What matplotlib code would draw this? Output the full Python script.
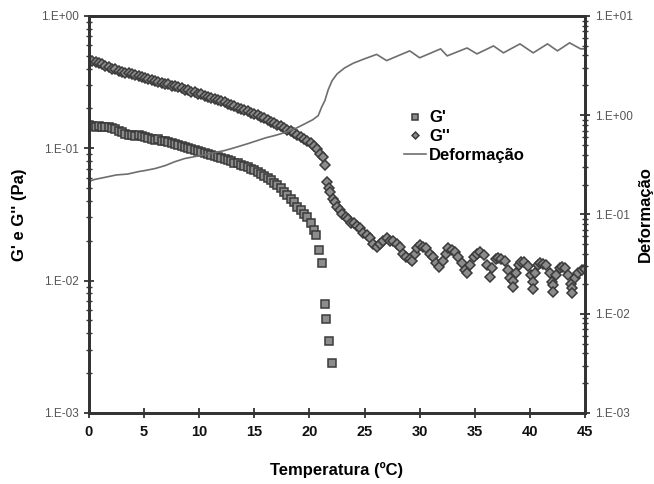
import numpy as np
import matplotlib
matplotlib.use("Agg")
import matplotlib.pyplot as plt
from matplotlib.ticker import FixedLocator, FuncFormatter, LogLocator, NullFormatter
from matplotlib.lines import Line2D

# G' (storage modulus), squares
t_g1 = [0.0, 0.3, 0.6, 0.9, 1.2, 1.5, 1.8, 2.1, 2.4, 2.7, 3.0, 3.3, 3.6, 3.9, 4.2, 4.5,
        4.8, 5.1, 5.4, 5.7, 6.0, 6.3, 6.6, 6.9, 7.2, 7.5, 7.8, 8.1, 8.4, 8.7, 9.0, 9.3,
        9.6, 9.9, 10.2, 10.5, 10.8, 11.1, 11.4, 11.7, 12.0, 12.3, 12.6, 12.9, 13.2, 13.5,
        13.8, 14.1, 14.4, 14.7, 15.0, 15.3, 15.6, 15.9, 16.2, 16.5, 16.8, 17.1, 17.4, 17.7,
        18.0, 18.3, 18.6, 18.9, 19.2, 19.5, 19.8, 20.1, 20.4, 20.6, 20.9, 21.1, 21.4, 21.5,
        21.8, 22.05]
g1 = [0.150, 0.148, 0.146, 0.147, 0.145, 0.146, 0.144, 0.143, 0.139, 0.135, 0.132, 0.129,
      0.127, 0.125, 0.123, 0.126, 0.124, 0.121, 0.119, 0.118, 0.116, 0.117, 0.114, 0.113,
      0.112, 0.109, 0.108, 0.106, 0.104, 0.103, 0.101, 0.099, 0.097, 0.096, 0.094, 0.092,
      0.091, 0.089, 0.087, 0.086, 0.084, 0.083, 0.081, 0.080, 0.078, 0.077, 0.075, 0.074,
      0.072, 0.070, 0.068, 0.066, 0.064, 0.062, 0.060, 0.058, 0.055, 0.053, 0.050, 0.047,
      0.044, 0.041, 0.039, 0.036, 0.034, 0.032, 0.030, 0.027, 0.024, 0.022, 0.017, 0.0135,
      0.0067, 0.0051, 0.0035, 0.0024]

# G'' (loss modulus), diamonds
t_g2 = [0.0, 0.3, 0.6, 0.9, 1.2, 1.5, 1.8, 2.1, 2.4, 2.7, 3.0, 3.3, 3.6, 3.9, 4.2, 4.5,
        4.8, 5.1, 5.4, 5.7, 6.0, 6.3, 6.6, 6.9, 7.2, 7.5, 7.8, 8.1, 8.4, 8.7, 9.0, 9.3,
        9.6, 9.9, 10.2, 10.5, 10.8, 11.1, 11.4, 11.7, 12.0, 12.3, 12.6, 12.9, 13.2, 13.5,
        13.8, 14.1, 14.4, 14.7, 15.0, 15.3, 15.6, 15.9, 16.2, 16.5, 16.8, 17.1, 17.4, 17.7,
        18.0, 18.3, 18.6, 18.9, 19.2, 19.5, 19.8, 20.1, 20.4, 20.7, 21.0, 21.2,
        21.4, 21.6, 21.8, 21.9, 22.1, 22.3, 22.5, 22.8, 23.0, 23.3, 23.5, 23.8, 24.0, 24.3,
        24.6, 24.9, 25.2, 25.5, 25.8, 26.1, 26.4, 26.7, 27.0, 27.3, 27.6, 27.9, 28.2, 28.5,
        28.8, 29.1, 29.3, 29.6, 29.8, 30.0, 30.3, 30.6, 30.9, 31.2, 31.5, 31.8, 32.1, 32.4,
        32.6, 32.9, 33.2, 33.5, 33.8, 34.1, 34.3, 34.6, 34.9, 35.2, 35.5, 35.8, 36.1, 36.4,
        36.6, 36.9, 37.1, 37.4, 37.7, 38.0, 38.2, 38.5, 38.5, 38.7, 39.0, 39.2, 39.5, 39.8,
        40.1, 40.3, 40.3, 40.5, 40.7, 40.9, 41.2, 41.5, 41.8, 42.0, 42.1, 42.1, 42.4, 42.7,
        42.9, 43.2, 43.5, 43.7, 43.8, 43.8, 44.1, 44.4, 44.7, 45.0]
g2 = [0.460, 0.455, 0.452, 0.440, 0.432, 0.420, 0.412, 0.400, 0.396, 0.385, 0.378, 0.372,
      0.369, 0.362, 0.357, 0.353, 0.345, 0.340, 0.336, 0.330, 0.322, 0.319, 0.313, 0.308,
      0.304, 0.298, 0.295, 0.290, 0.284, 0.278, 0.274, 0.268, 0.265, 0.258, 0.255, 0.249,
      0.244, 0.240, 0.235, 0.231, 0.226, 0.223, 0.217, 0.212, 0.208, 0.203, 0.199, 0.196,
      0.190, 0.185, 0.181, 0.177, 0.172, 0.168, 0.163, 0.159, 0.155, 0.151, 0.147, 0.142,
      0.138, 0.134, 0.130, 0.126, 0.122, 0.118, 0.114, 0.109, 0.104, 0.098, 0.090, 0.086,
      0.075, 0.056, 0.050, 0.047, 0.041, 0.039, 0.036, 0.034, 0.032, 0.030, 0.029, 0.027,
      0.027, 0.026, 0.025, 0.023, 0.022, 0.021, 0.019, 0.018, 0.019, 0.020, 0.021, 0.020,
      0.020, 0.019, 0.018, 0.016, 0.015, 0.0145, 0.0140, 0.016, 0.0175, 0.0186, 0.018,
      0.0175, 0.016, 0.015, 0.0135, 0.0127, 0.014, 0.016, 0.0176, 0.017, 0.0165, 0.015,
      0.0135, 0.012, 0.0114, 0.013, 0.015, 0.016, 0.0164, 0.0155, 0.013, 0.0106, 0.0125,
      0.0145, 0.0148, 0.0146, 0.0140, 0.012, 0.0105, 0.0100, 0.0090, 0.0115, 0.013, 0.0138,
      0.0137, 0.0128, 0.011, 0.0098, 0.0087, 0.0115, 0.013, 0.0136, 0.0134, 0.013, 0.0115,
      0.0098, 0.0092, 0.0082, 0.011, 0.0125, 0.0127, 0.0125, 0.011, 0.0095, 0.0088, 0.0080,
      0.0105, 0.0115, 0.0120, 0.0122]

# Deformacao (strain), right axis
t_def = [0.0, 0.5, 1.5, 2.5, 3.5, 4.5, 5.1, 6.0, 6.9, 7.8, 8.7, 10.0, 11.4, 12.3, 13.2,
         14.5, 16.0, 17.0, 17.8, 18.8, 19.6, 20.3, 20.8, 21.1, 21.4, 21.7, 22.05, 22.5,
         23.2, 24.0, 25.0, 26.1, 27.0, 29.1, 30.0, 31.9, 32.5, 34.3, 35.2, 36.7, 37.6,
         39.1, 40.3, 41.6, 42.5, 43.6, 44.6, 45.0]
deform = [0.215, 0.225, 0.237, 0.250, 0.255, 0.270, 0.277, 0.290, 0.310, 0.340, 0.366,
          0.390, 0.420, 0.440, 0.470, 0.520, 0.590, 0.630, 0.670, 0.740, 0.820, 0.900,
          0.990, 1.20, 1.40, 1.80, 2.22, 2.60, 3.00, 3.35, 3.70, 4.10, 3.55, 4.45, 3.79,
          4.66, 3.96, 4.76, 4.15, 4.99, 4.25, 5.23, 4.25, 5.23, 4.45, 5.36, 4.66, 4.66]

x_ticks = [0, 5, 10, 15, 20, 25, 30, 35, 40, 45]

fig = plt.figure(figsize=(6.54, 4.84), dpi=100)
ax = fig.add_axes([0.136, 0.147, 0.7585, 0.820])
ax2 = ax.twinx()

mk = dict(linestyle="none", markerfacecolor="#8c8c8c", markeredgecolor="#3a3a3a",
          markeredgewidth=1.1)
ax.plot(t_g1, g1, marker="s", markersize=6.3, **mk)
ax.plot(t_g2, g2, marker="D", markersize=5.2, **mk)
ax2.plot(t_def, deform, color="#6e6e6e", linewidth=1.2)

def efmt(v, pos):
    return "1.E%+03d" % int(round(np.log10(v)))

ax.set_xlim(0, 45)
ax.set_yscale("log")
ax.set_ylim(1e-3, 1)
ax2.set_yscale("log")
ax2.set_ylim(1e-3, 10)

for a in (ax, ax2):
    a.yaxis.set_major_formatter(FuncFormatter(efmt))
    a.yaxis.set_minor_locator(LogLocator(base=10, subs=np.arange(2, 10)))
    a.yaxis.set_minor_formatter(NullFormatter())
    a.tick_params(axis="y", which="major", direction="inout", length=7, width=1.3,
                  colors="#333333", labelcolor="#555555", labelsize=8.5)
    a.tick_params(axis="y", which="minor", direction="inout", length=4, width=1.0,
                  colors="#333333")
    for sp in a.spines.values():
        sp.set_linewidth(2.0)
        sp.set_color("#333333")
    for lbl in a.get_yticklabels():
        lbl.set_family(["Liberation Sans", "DejaVu Sans"])

ax.xaxis.set_major_locator(FixedLocator(x_ticks))
ax.tick_params(axis="x", which="major", direction="inout", length=7, width=1.3,
               colors="#333333", labelcolor="#111111", labelsize=10.5, pad=5)
for lbl in ax.get_xticklabels():
    lbl.set_family(["Liberation Sans Narrow", "Liberation Sans"])
    lbl.set_fontweight("bold")

ax.set_xlabel("Temperatura (ºC)", fontsize=12, fontweight="bold",
              family=["Liberation Sans Narrow", "Liberation Sans"], labelpad=17)
ax.set_ylabel("G' e G'' (Pa)", fontsize=12, fontweight="bold",
              family=["Liberation Sans", "DejaVu Sans"], labelpad=10)
ax2.set_ylabel("Deformação", fontsize=12, fontweight="bold",
               family=["Liberation Sans", "DejaVu Sans"], labelpad=4)

handles = [
    Line2D([], [], marker="s", markersize=4, **mk),
    Line2D([], [], marker="D", markersize=3.5, **mk),
    Line2D([], [], color="#6e6e6e", linewidth=1.2),
]
leg = ax.legend(handles, ["G'", "G''", "Deformação"], loc="upper left",
                bbox_to_anchor=(0.605, 0.80), frameon=False, handlelength=1.3,
                handletextpad=0.2, labelspacing=0.22, numpoints=1,
                prop=dict(family=["Liberation Sans", "DejaVu Sans"], size=12, weight="bold"))

fig.savefig("out.png", dpi=100)
